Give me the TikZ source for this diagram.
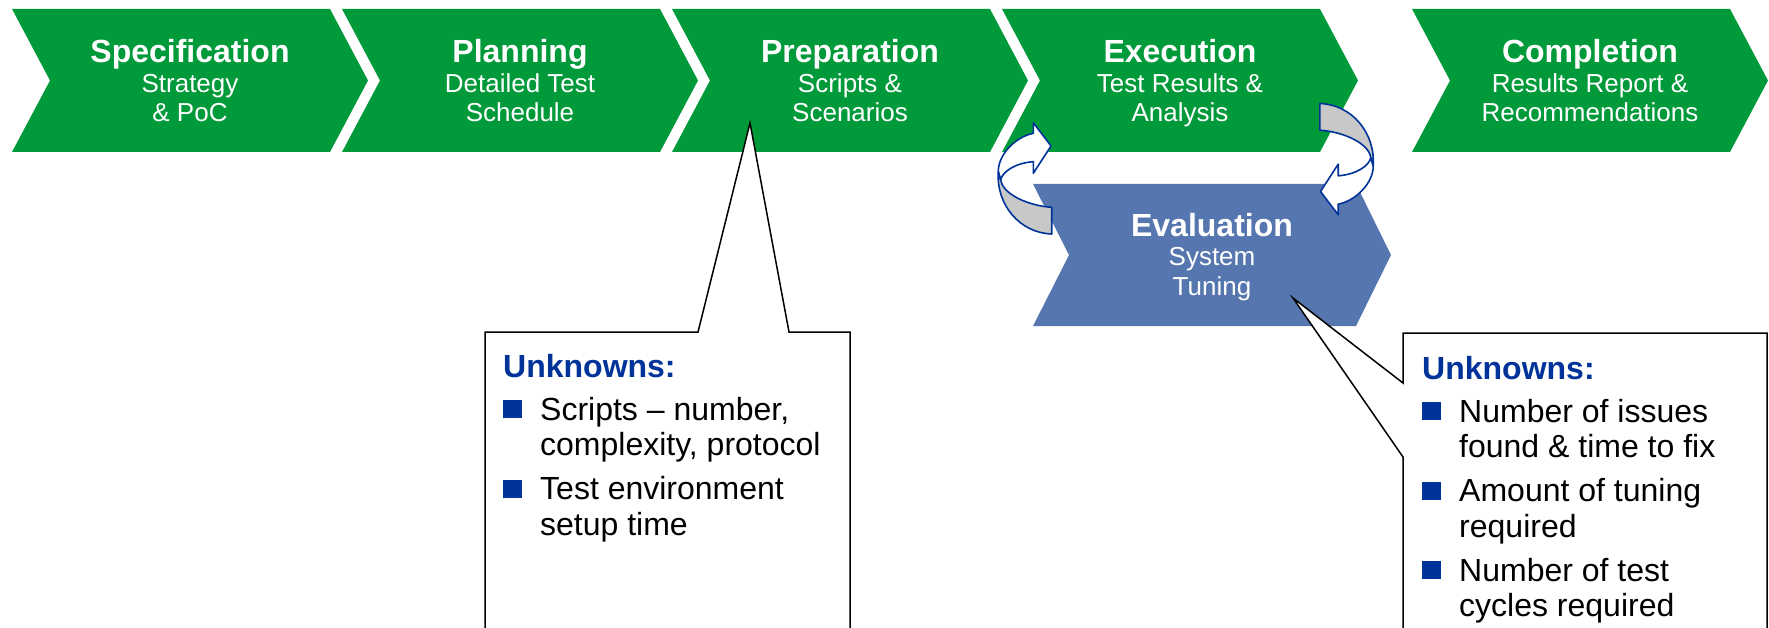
\documentclass[tikz,border=0pt]{standalone}
\usepackage{fontspec}
\setmainfont{Liberation Sans}

\definecolor{phasegreen}{RGB}{0,154,58}
\definecolor{evalblue}{RGB}{85,118,174}
\definecolor{unkblue}{RGB}{0,51,153}
\definecolor{loopgrey}{RGB}{200,200,200}

\tikzset{
  phasetext/.style={text=white, align=center, inner sep=0pt, font=\fontsize{26}{29.5}\selectfont},
  callout/.style={draw=black, line width=1.5pt, fill=white, line join=miter},
  unklist/.style={anchor=north west, inner sep=0pt, font=\fontsize{32}{35.5}\selectfont},
  loopline/.style={draw=unkblue, line width=1.6pt, line join=round},
  loop arrow/.pic={
    % back half with the head
    \filldraw[loopline, fill=white] (-26.2,-6.8) .. controls (-26.5,-23.5) and (-9.5,-41.5) .. (8.8,-45.2)
      -- (8.8,-55.8) -- (26.5,-32.5) -- (8.8,-5.2) -- (8.8,-16.8)
      .. controls (-9.5,-15.5) and (-22.5,-6.5) .. (-23.8,1.5) -- cycle;
    % front half
    \filldraw[loopline, fill=loopgrey] (27.2,28.8) .. controls (5.5,27.5) and (-21.5,16.5) .. (-23.8,1.5)
      -- (-26.2,-6.8) .. controls (-28.5,26.5) and (-4.5,54.5) .. (27.2,55.5) -- cycle;
  }
}

\newcommand{\phaselines}[3]{{\bfseries\fontsize{32}{30}\selectfont\vphantom{Ahg}#1}\\#2\\#3\vphantom{g}}
\newcommand{\bul}{\textcolor{unkblue}{\rule[2pt]{19pt}{18pt}}}

\begin{document}
\begin{tikzpicture}[x=1pt,y=-1pt]
    \useasboundingbox (0,0) rectangle (1769,628);

    % phases
    \foreach \x in {12,342,672,1002,1412}
        \fill[phasegreen] (\x,9) -- ++(318,0) -- ++(38,71.5) -- ++(-38,71.5) -- ++(-318,0) -- ++(38,-71.5) -- cycle;
    \fill[evalblue] (1033,184) -- ++(323,0) -- ++(35,71) -- ++(-35,71) -- ++(-323,0) -- ++(36,-71) -- cycle;

    \node[phasetext] (spec) at (190,83.5) {\phaselines{Specification}{Strategy}{\& PoC}};
    \node[phasetext] (plan) at (520,83.5) {\phaselines{Planning}{Detailed Test}{Schedule}};
    \node[phasetext] (prep) at (850,83.5) {\phaselines{Preparation}{Scripts \&}{Scenarios}};
    \node[phasetext] (exec) at (1180,83.5) {\phaselines{Execution}{Test Results \&}{Analysis}};
    \node[phasetext] (comp) at (1590,83.5) {\phaselines{Completion}{Results Report \&}{Recommendations}};
    \node[phasetext] (eval) at (1212,257) {\phaselines{Evaluation}{System}{Tuning}};

    % loop between execution and evaluation
    \pic at (1024.5,178.5) {loop arrow};
    \pic[rotate=180] at (1347,159) {loop arrow};

    % callouts
    \coordinate (prepTip) at (750,123);
    \coordinate (evalTip) at (1293,298);
    \draw[callout] (485,640) -- (485,332) -- (698,332) -- (prepTip) -- (789,332) -- (850,332) -- (850,640);
    \draw[callout] (1403,640) -- (1403,457) -- (evalTip) -- (1403,383) -- (1403,333) -- (1767,333) -- (1767,640);

    \node[unklist] (unkprep) at (503,352) {\begin{tabular}{@{}l@{\hspace{18pt}}l@{}}
        \multicolumn{2}{@{}l@{}}{\color{unkblue}\bfseries Unknowns:}\\[7.5pt]
        \bul & Scripts – number,\\
             & complexity, protocol\\[8.5pt]
        \bul & Test environment\\
             & setup time
    \end{tabular}};
    \node[unklist] (unkeval) at (1422,354) {\begin{tabular}{@{}l@{\hspace{18pt}}l@{}}
        \multicolumn{2}{@{}l@{}}{\color{unkblue}\bfseries Unknowns:}\\[7.5pt]
        \bul & Number of issues\\
             & found \& time to fix\\[8.5pt]
        \bul & Amount of tuning\\
             & required\\[8.5pt]
        \bul & Number of test\\
             & cycles required
    \end{tabular}};
\end{tikzpicture}
\end{document}
